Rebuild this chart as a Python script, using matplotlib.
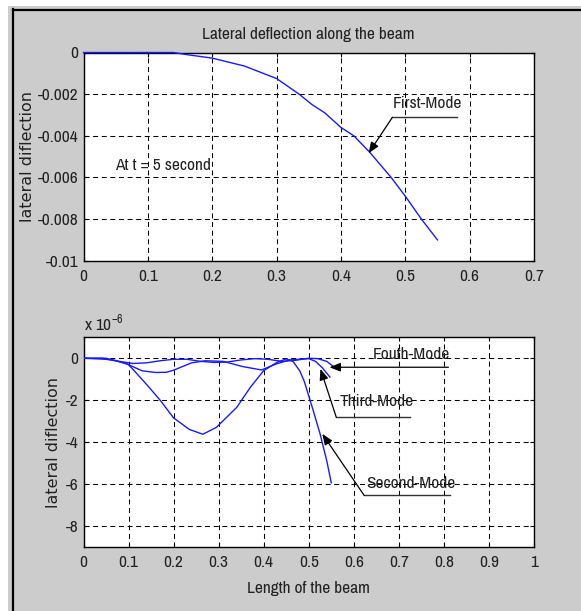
import matplotlib
matplotlib.use("Agg")
import matplotlib.pyplot as plt
from matplotlib import font_manager as fm
from matplotlib.patches import Rectangle
from matplotlib.lines import Line2D

# ---------------- data ----------------
# Top panel: first mode
x_first = [0, 0.05, 0.1, 0.14, 0.16, 0.2, 0.25, 0.3, 0.335, 0.355, 0.375, 0.4, 0.42, 0.445, 0.478, 0.5, 0.525, 0.55]
y_first = [0, 0, 0, 0, -0.0001, -0.00027, -0.00065, -0.00125, -0.002, -0.0025, -0.0029, -0.0036, -0.004,
           -0.0048, -0.006, -0.0069, -0.008, -0.009]

# Bottom panel (units of 1e-6)
x_second = [0, 0.04, 0.07, 0.1, 0.14, 0.17, 0.2, 0.235, 0.265, 0.295, 0.34, 0.37, 0.4, 0.43, 0.45,
            0.465, 0.48, 0.49, 0.5, 0.51, 0.525, 0.54, 0.55]
y_second = [0, 0, -0.1, -0.3, -1.25, -2.0, -2.85, -3.4, -3.63, -3.3, -2.35, -1.4, -0.59, -0.19, -0.03,
            -0.15, -0.6, -1.1, -1.8, -2.5, -3.6, -4.9, -5.95]

x_third = [0, 0.05, 0.094, 0.13, 0.16, 0.184, 0.2, 0.24, 0.27, 0.31, 0.354, 0.395, 0.428, 0.458,
           0.5, 0.515, 0.53, 0.547]
y_third = [0, 0, -0.25, -0.6, -0.68, -0.67, -0.57, -0.22, -0.12, -0.15, -0.4, -0.56, -0.27, -0.08,
           -0.02, -0.15, -0.45, -0.9]

x_fourth = [0, 0.05, 0.08, 0.11, 0.14, 0.17, 0.2, 0.23, 0.26, 0.29, 0.32, 0.35, 0.38, 0.41, 0.44,
            0.47, 0.5, 0.52, 0.54, 0.555]
y_fourth = [0, -0.05, -0.15, -0.25, -0.22, -0.12, -0.05, -0.05, -0.15, -0.2, -0.18, -0.08, -0.02,
            -0.05, -0.15, -0.1, 0, -0.02, -0.15, -0.4]

top_xticks = [0, 0.1, 0.2, 0.3, 0.4, 0.5, 0.6, 0.7]
top_xticklabels = ["0", "0.1", "0.2", "0.3", "0.4", "0.5", "0.6", "0.7"]
top_yticks = [-0.01, -0.008, -0.006, -0.004, -0.002, 0]
top_yticklabels = ["-0.01", "-0.008", "-0.006", "-0.004", "-0.002", "0"]
bot_xticks = [0, 0.1, 0.2, 0.3, 0.4, 0.5, 0.6, 0.7, 0.8, 0.9, 1.0]
bot_xticklabels = ["0", "0.1", "0.2", "0.3", "0.4", "0.5", "0.6", "0.7", "0.8", "0.9", "1"]
bot_yticks = [-8, -6, -4, -2, 0]
bot_yticklabels = ["-8", "-6", "-4", "-2", "0"]

# ---------------- fonts ----------------
def pick_font(candidates):
    for name in candidates:
        try:
            fm.findfont(fm.FontProperties(family=name), fallback_to_default=False)
            return name
        except Exception:
            continue
    return "DejaVu Sans"

NARROW_FONT = pick_font(["Liberation Sans Narrow", "Arial Narrow", "Archivo Narrow",
                         "Roboto Condensed", "Barlow Semi Condensed", "Liberation Sans"])
plt.rcParams["font.family"] = [NARROW_FONT, "DejaVu Sans"]
plt.rcParams["mathtext.fontset"] = "custom"
plt.rcParams["mathtext.rm"] = NARROW_FONT
plt.rcParams["lines.scale_dashes"] = False
FS = 12.5
TXT = "#222222"
LINE_BLUE = "#1a1aff"
GRAY = "#cccccc"
ANN = "#333333"

W, H = 581, 611
fig = plt.figure(figsize=(W / 100, H / 100), dpi=100)
fig.patch.set_facecolor("white")

# gray panel background + black border lines
fig.add_artist(Rectangle((8 / W, 0), 1 - 8 / W, (H - 6) / H, transform=fig.transFigure,
                         facecolor=GRAY, edgecolor="none", zorder=-10))
fig.add_artist(Line2D([13 / W, 13 / W], [0, 1 - 9 / H], transform=fig.transFigure, color="black", lw=1.6))
fig.add_artist(Line2D([13 / W, 1], [1 - 9.5 / H, 1 - 9.5 / H], transform=fig.transFigure, color="black", lw=1.6))


def style_axes(ax):
    ax.set_facecolor("white")
    for s in ax.spines.values():
        s.set_color("black")
        s.set_linewidth(1.0)
    ax.grid(True, color="black", linestyle=(0, (3.6, 2.6)), linewidth=0.75)
    ax.tick_params(direction="in", length=3, width=0.8, top=True, right=True,
                   labelsize=FS, colors="black", labelcolor=TXT)
    ax.tick_params(axis="x", pad=6.0)
    ax.tick_params(axis="y", pad=3.5)


l, r = 83.5, 534
AX_W = r - l

# ---------------- top panel ----------------
ax1 = fig.add_axes([l / W, 1 - 260.7 / H, AX_W / W, (260.7 - 52.5) / H])
ax1.plot(x_first, y_first, color=LINE_BLUE, lw=1.0, zorder=3, clip_on=False)
ax1.set_xlim(0, 0.7)
ax1.set_ylim(-0.01, 0)
ax1.set_xticks(top_xticks)
ax1.set_xticklabels(top_xticklabels)
ax1.set_yticks(top_yticks)
ax1.set_yticklabels(top_yticklabels)
style_axes(ax1)
ax1.set_title("Lateral deflection along the beam", fontsize=FS, pad=10, color=TXT)
ax1.set_ylabel("lateral diflection", family="DejaVu Sans", fontsize=11.5, color=TXT)
ax1.yaxis.set_label_coords((35 - l) / AX_W, 0.5)
ax1.text(0.0485, -0.00543, "At t = 5 second", fontsize=FS, va="center", ha="left", color=TXT)
ax1.text(0.48, -0.00243, "First-Mode", fontsize=FS, va="center", ha="left", color=TXT)
ax1.plot([0.48, 0.58], [-0.00311, -0.00311], color=ANN, lw=1.0)
arrow_kw = dict(arrowstyle="-|>,head_length=0.55,head_width=0.22", color="black",
                lw=0.9, shrinkA=0, shrinkB=0, mutation_scale=12)
ax1.annotate("", xy=(0.443, -0.00484), xytext=(0.48, -0.00311), arrowprops=arrow_kw)

# ---------------- bottom panel ----------------
ax2 = fig.add_axes([l / W, 1 - 546.7 / H, AX_W / W, (546.7 - 337.3) / H])
ax2.plot(x_second, y_second, color=LINE_BLUE, lw=1.0, zorder=3)
ax2.plot(x_third, y_third, color=LINE_BLUE, lw=1.0, zorder=3)
ax2.plot(x_fourth, y_fourth, color=LINE_BLUE, lw=1.0, zorder=3)
ax2.set_xlim(0, 1)
ax2.set_ylim(-9, 1)
ax2.set_xticks(bot_xticks)
ax2.set_xticklabels(bot_xticklabels)
ax2.set_yticks(bot_yticks)
ax2.set_yticklabels(bot_yticklabels)
style_axes(ax2)
ax2.set_ylabel("lateral diflection", family="DejaVu Sans", fontsize=11.5, color=TXT)
ax2.yaxis.set_label_coords((61 - l) / AX_W, 0.5)
ax2.set_xlabel("Length of the beam", fontsize=FS, labelpad=8, color=TXT)
ax2.text(0.0, 1.068, "x 10$^{-6}$", transform=ax2.transAxes, fontsize=FS, ha="left", va="center",
         color=TXT)

# Fourth mode
ax2.text(0.641, 0.2, "Fouth-Mode", fontsize=FS, va="center", ha="left", color=TXT)
ax2.annotate("", xy=(0.546, -0.43), xytext=(0.81, -0.43), arrowprops=arrow_kw)
# Third mode
ax2.text(0.569, -2.05, "Third-Mode", fontsize=FS, va="center", ha="left", color=TXT)
ax2.plot([0.561, 0.725], [-2.81, -2.81], color=ANN, lw=1.0)
ax2.annotate("", xy=(0.526, -0.51), xytext=(0.561, -2.81), arrowprops=arrow_kw)
# Second mode
ax2.text(0.627, -5.96, "Second-Mode", fontsize=FS, va="center", ha="left", color=TXT)
ax2.plot([0.623, 0.814], [-6.55, -6.55], color=ANN, lw=1.0)
ax2.annotate("", xy=(0.53, -3.61), xytext=(0.623, -6.55), arrowprops=arrow_kw)

fig.savefig("out.png", dpi=100, facecolor=fig.get_facecolor())
